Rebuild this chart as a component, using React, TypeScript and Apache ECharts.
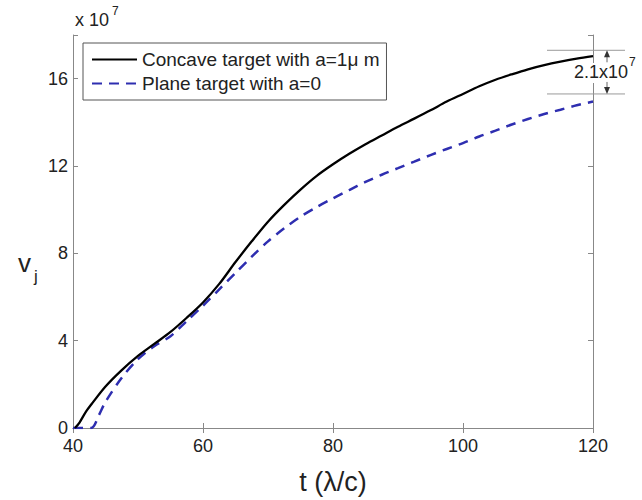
import React, { useEffect, useRef } from "react";
import * as echarts from "echarts";

const FONT = "'Liberation Sans', Arial, sans-serif";

const concaveT = [40.3, 41, 42, 43, 45, 47.5, 50, 52.5, 55, 57.5, 60, 62.5, 65, 67.5, 70, 72.5, 75, 77.5, 80, 82.5, 85, 87.5, 90, 92.5, 95, 97.5, 100, 102.5, 105, 107.5, 110, 112.5, 115, 117.5, 120];
const concaveV = [0, 0.25, 0.75, 1.15, 1.9, 2.65, 3.3, 3.85, 4.4, 5.05, 5.75, 6.6, 7.6, 8.55, 9.45, 10.22, 10.92, 11.55, 12.08, 12.56, 13.0, 13.4, 13.8, 14.17, 14.55, 14.95, 15.3, 15.65, 15.95, 16.2, 16.43, 16.62, 16.78, 16.92, 17.03];

const planeT = [40, 42.8, 44, 45, 47.5, 50, 52.5, 55, 57.5, 60, 62.5, 65, 67.5, 70, 72.5, 75, 77.5, 80, 82.5, 85, 87.5, 90, 92.5, 95, 97.5, 100, 102.5, 105, 107.5, 110, 112.5, 115, 117.5, 120];
const planeV = [0, 0, 0.6, 1.2, 2.3, 3.15, 3.75, 4.2, 4.9, 5.6, 6.35, 7.1, 7.85, 8.55, 9.15, 9.68, 10.12, 10.52, 10.9, 11.27, 11.6, 11.9, 12.2, 12.5, 12.78, 13.05, 13.35, 13.62, 13.9, 14.15, 14.38, 14.58, 14.78, 14.95];

const seriesNames = ["Concave target with a=1\u03bc m", "Plane target with a=0"];
const xTicks = [40, 60, 80, 100, 120];
const yTicks = [0, 4, 8, 12, 16];
const diffTop = 17.3;
const diffBottom = 15.3;

export default function App() {
  const ref = useRef<HTMLDivElement>(null);
  useEffect(() => {
    if (!ref.current) return;
    document.body.style.margin = "0";
    const chart = echarts.init(ref.current, null, { renderer: "svg" });
    const axisColor = "#888";
    const textColor = "#222";
    const xMin = xTicks[0];
    const xMax = xTicks[xTicks.length - 1];
    const xInt = xTicks[1] - xTicks[0];
    const yInt = yTicks[1] - yTicks[0];
    const baseX = {
      type: "value",
      min: xMin,
      max: xMax,
      interval: xInt,
      splitLine: { show: false },
      axisLine: { lineStyle: { color: axisColor, width: 1 } },
      axisTick: { inside: true, length: 5, lineStyle: { color: axisColor } },
    };
    const baseY = {
      type: "value",
      min: 0,
      max: 18,
      interval: yInt,
      splitLine: { show: false },
      axisLine: { show: true, lineStyle: { color: axisColor, width: 1 } },
      axisTick: { show: true, inside: true, length: 5, lineStyle: { color: axisColor } },
    };
    chart.setOption({
      animation: false,
      textStyle: { fontFamily: FONT },
      grid: { left: 73, right: 49, top: 35, bottom: 71, containLabel: false },
      legend: {
        orient: "vertical",
        left: 83,
        top: 43,
        padding: [7, 7, 7, 8],
        itemGap: 5,
        itemWidth: 45,
        itemHeight: 14,
        borderColor: "#555",
        borderWidth: 1,
        backgroundColor: "#fff",
        itemStyle: { opacity: 0 },
        textStyle: { fontSize: 19, color: textColor, fontFamily: FONT },
        data: seriesNames,
      },
      xAxis: [
        {
          ...baseX,
          position: "bottom",
          name: "t (\u03bb/c)",
          nameLocation: "middle",
          nameGap: 40,
          nameTextStyle: { fontSize: 27, color: textColor, fontFamily: FONT },
          axisLabel: { fontSize: 18, color: textColor, margin: 9, fontFamily: FONT },
        },
        { ...baseX, position: "top", axisLabel: { show: false } },
      ],
      yAxis: [
        {
          ...baseY,
          position: "left",
          axisLabel: {
            fontSize: 18,
            color: textColor,
            margin: 5,
            fontFamily: FONT,
            formatter: (v: number) => (yTicks.includes(v) ? String(v) : ""),
          },
        },
        {
          ...baseY,
          position: "right",
          axisLabel: { show: false },
        },
      ],
      series: [
        {
          name: seriesNames[0],
          type: "line",
          data: concaveT.map((t, i) => [t, concaveV[i]]),
          symbol: "none",
          smooth: 0.3,
          lineStyle: { color: "#000", width: 2.3 },
          itemStyle: { color: "#000" },
          z: 3,
        },
        {
          name: seriesNames[1],
          type: "line",
          data: planeT.map((t, i) => [t, planeV[i]]),
          symbol: "none",
          smooth: 0.3,
          lineStyle: { color: "#2e2eb0", width: 2.5, type: [10, 7] },
          itemStyle: { color: "#2e2eb0" },
          z: 2,
        },
      ],
    });

    const yTop = chart.convertToPixel({ yAxisIndex: 0 }, diffTop) as number;
    const yBot = chart.convertToPixel({ yAxisIndex: 0 }, diffBottom) as number;
    const x0 = 547;
    const x1 = 625;
    const ax = 607;
    const ann = "#666";
    chart.setOption({
      graphic: [
        { type: "line", shape: { x1: x0, y1: yTop, x2: x1, y2: yTop }, style: { stroke: "#999", lineWidth: 1 }, z: 10 },
        { type: "line", shape: { x1: x0, y1: yBot, x2: x1, y2: yBot }, style: { stroke: "#999", lineWidth: 1 }, z: 10 },
        { type: "line", shape: { x1: ax, y1: yTop + 4, x2: ax, y2: yTop + 12 }, style: { stroke: ann, lineWidth: 1 }, z: 10 },
        { type: "polygon", shape: { points: [[ax, yTop], [ax - 3, yTop + 7], [ax + 3, yTop + 7]] }, style: { fill: "#333" }, z: 10 },
        { type: "line", shape: { x1: ax, y1: yBot - 12, x2: ax, y2: yBot - 4 }, style: { stroke: ann, lineWidth: 1 }, z: 10 },
        { type: "polygon", shape: { points: [[ax, yBot], [ax - 3, yBot - 7], [ax + 3, yBot - 7]] }, style: { fill: "#333" }, z: 10 },
        { type: "rect", shape: { x: 573, y: 63, width: 69, height: 20 }, style: { fill: "#fff" }, z: 9 },
        { type: "text", x: 574, y: 63, style: { text: "2.1x10", fontSize: 18, fill: textColor, fontFamily: FONT }, z: 11 },
        { type: "text", x: 629, y: 56, style: { text: "7", fontSize: 12, fill: textColor, fontFamily: FONT }, z: 11 },
        { type: "text", x: 75, y: 11, style: { text: "x 10", fontSize: 18, fill: textColor, fontFamily: FONT } },
        { type: "text", x: 112, y: 5, style: { text: "7", fontSize: 12, fill: textColor, fontFamily: FONT } },
        { type: "text", x: 18, y: 250, style: { text: "v", fontSize: 26, fill: textColor, fontFamily: FONT } },
        { type: "text", x: 34, y: 268, style: { text: "j", fontSize: 17, fill: textColor, fontFamily: FONT } },
      ],
    });
    return () => chart.dispose();
  }, []);
  return <div ref={ref} style={{ width: 642, height: 500 }} />;
}
